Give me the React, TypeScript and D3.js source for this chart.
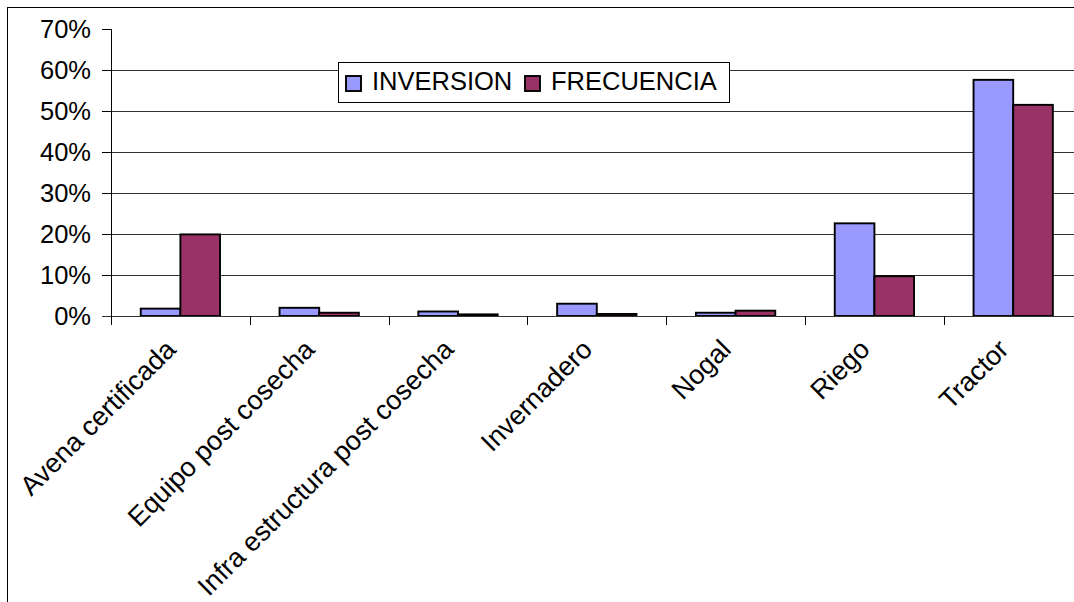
import * as d3 from 'd3';
import React, { useEffect, useRef } from 'react';

const categories = [
  'Avena certificada',
  'Equipo post cosecha',
  'Infra estructura post cosecha',
  'Invernadero',
  'Nogal',
  'Riego',
  'Tractor',
];
const inversion = [0.018, 0.02, 0.011, 0.03, 0.008, 0.226, 0.576];
const frecuencia = [0.199, 0.008, 0.004, 0.005, 0.013, 0.097, 0.515];
const seriesNames = ['INVERSION', 'FRECUENCIA'];
const seriesColors = ['#9999FF', '#993366'];
const yTicks = [0, 0.1, 0.2, 0.3, 0.4, 0.5, 0.6, 0.7];

const width = 1074;
const height = 602;
const font = '"Liberation Sans", Arial, sans-serif';
const fontSize = 25.5;
const xLabelSize = 27;

const BarChart = () => {
  const svgRef = useRef(null);

  useEffect(() => {
    const svg = d3.select(svgRef.current);
    svg.selectAll('*').remove();

    // outer chart frame (right/bottom edges fall outside the picture)
    svg
      .append('rect')
      .attr('x', 7.5)
      .attr('y', 7.5)
      .attr('width', width + 20)
      .attr('height', height + 20)
      .attr('fill', 'white')
      .attr('stroke', 'black')
      .attr('stroke-width', 1);

    const left = 111;
    const right = 111 + 7 * 138.8;

    const xScale = d3.scaleBand().domain(categories).range([left, right]);
    const yScale = d3.scaleLinear().domain([0, 0.7]).range([316, 29]);

    // gridlines
    svg
      .append('g')
      .selectAll('line')
      .data(yTicks.filter((t) => t > 0 && t < 0.7))
      .enter()
      .append('line')
      .attr('x1', left)
      .attr('x2', right)
      .attr('y1', (d) => Math.round(yScale(d)) + 0.5)
      .attr('y2', (d) => Math.round(yScale(d)) + 0.5)
      .attr('stroke', '#333')
      .attr('stroke-width', 1);

    // bars
    const bw = xScale.bandwidth() / 3.5;
    const series = [inversion, frecuencia];
    series.forEach((values, si) => {
      svg
        .append('g')
        .selectAll('rect')
        .data(values)
        .enter()
        .append('rect')
        .attr('x', (d, i) => xScale(categories[i]) + xScale.bandwidth() / 2 - bw + si * bw)
        .attr('y', (d) => yScale(d))
        .attr('width', bw)
        .attr('height', (d) => yScale(0) - yScale(d))
        .attr('fill', seriesColors[si])
        .attr('stroke', 'black')
        .attr('stroke-width', 1.9);
    });

    // y axis
    const yAxis = svg.append('g');
    yAxis
      .append('line')
      .attr('x1', left + 0.5)
      .attr('x2', left + 0.5)
      .attr('y1', yScale(0.7))
      .attr('y2', yScale(0))
      .attr('stroke', 'black');
    yAxis
      .selectAll('line.tick')
      .data(yTicks)
      .enter()
      .append('line')
      .attr('class', 'tick')
      .attr('x1', left - 9)
      .attr('x2', left)
      .attr('y1', (d) => Math.round(yScale(d)) + 0.5)
      .attr('y2', (d) => Math.round(yScale(d)) + 0.5)
      .attr('stroke', 'black');
    yAxis
      .selectAll('text')
      .data(yTicks)
      .enter()
      .append('text')
      .attr('x', 91)
      .attr('y', (d) => yScale(d))
      .attr('dy', '0.35em')
      .attr('text-anchor', 'end')
      .style('font-family', font)
      .style('font-size', fontSize + 'px')
      .text((d) => d3.format('.0%')(d));

    // x axis
    const xAxis = svg.append('g');
    xAxis
      .append('line')
      .attr('x1', left - 9)
      .attr('x2', right)
      .attr('y1', Math.round(yScale(0)) + 0.5)
      .attr('y2', Math.round(yScale(0)) + 0.5)
      .attr('stroke', '#333');
    xAxis
      .selectAll('line.tick')
      .data(categories)
      .enter()
      .append('line')
      .attr('class', 'tick')
      .attr('x1', (d) => Math.round(xScale(d)) + 0.5)
      .attr('x2', (d) => Math.round(xScale(d)) + 0.5)
      .attr('y1', yScale(0))
      .attr('y2', yScale(0) + 9)
      .attr('stroke', 'black');
    xAxis
      .selectAll('text')
      .data(categories)
      .enter()
      .append('text')
      .attr(
        'transform',
        (d) => `translate(${xScale(d) + xScale.bandwidth() / 2 - 3},351) rotate(-45)`
      )
      .attr('text-anchor', 'end')
      .style('font-family', font)
      .style('font-size', xLabelSize + 'px')
      .text((d) => d);

    // legend
    const legend = svg.append('g');
    legend
      .append('rect')
      .attr('x', 338.5)
      .attr('y', 62.5)
      .attr('width', 391)
      .attr('height', 40)
      .attr('fill', 'white')
      .attr('stroke', 'black');
    const legendX = [346, 525];
    seriesNames.forEach((name, i) => {
      legend
        .append('rect')
        .attr('x', legendX[i])
        .attr('y', 76)
        .attr('width', 15)
        .attr('height', 15)
        .attr('fill', seriesColors[i])
        .attr('stroke', 'black')
        .attr('stroke-width', 1.9);
      legend
        .append('text')
        .attr('x', legendX[i] + 26)
        .attr('y', 90)
        .style('font-family', font)
        .style('font-size', fontSize + 'px')
        .text(name);
    });
  }, []);

  return (
    <svg
      ref={svgRef}
      width={width}
      height={height}
      style={{ position: 'absolute', left: 0, top: 0, display: 'block' }}
    />
  );
};

export default function App() {
  return <BarChart />;
}
